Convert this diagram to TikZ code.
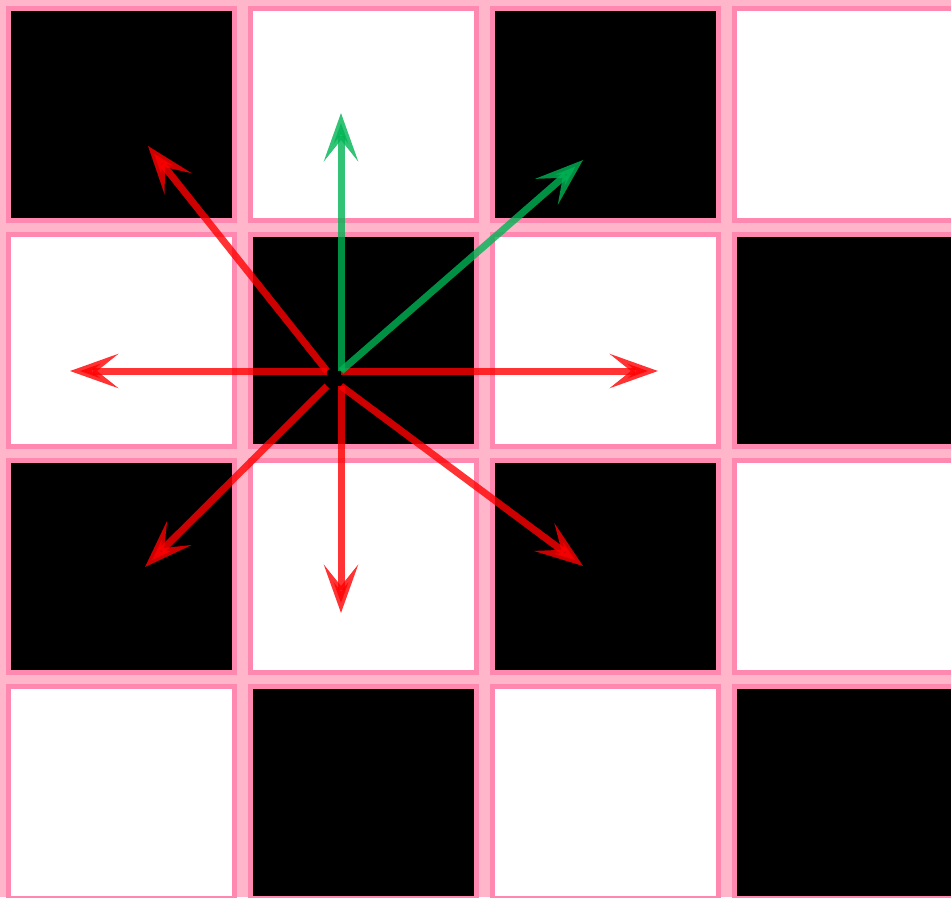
\documentclass[tikz,border=0pt]{standalone}
\usetikzlibrary{arrows.meta}
\definecolor{gridpink}{RGB}{255,136,176}
\definecolor{gappink}{RGB}{255,182,202}
\definecolor{vecred}{RGB}{255,0,0}
\definecolor{vecgreen}{RGB}{0,180,85}
\tikzset{
	cell/.style={draw=gridpink, line width=0.1cm},
	vec/.style={line width=0.14cm, opacity=0.8,
		-{Stealth[length=0.96cm, width=0.68cm, inset=0.42cm]}},
}
\begin{document}
\begin{tikzpicture}[x=0.02cm, y=-0.02cm]
	\useasboundingbox (0,0) rectangle (951,897);
	\fill[gappink] (0,0) rectangle (951,897);
	\begin{scope}
		\clip (0,0) rectangle (951,897);
		% checkerboard of pixels
		\foreach \row in {0,...,3}
			\foreach \col in {0,...,3} {
				\pgfmathtruncatemacro{\parity}{mod(\col+\row,2)}
				\ifnum\parity=0 \def\tone{black}\else\def\tone{white}\fi
				\draw[cell, fill=\tone] (8.5+242*\col, 8.5+226*\row) rectangle (234.5+242*\col, 220.5+226*\row);
			}
	\end{scope}
	% corners of the centre pixel
	\coordinate (ne) at (341, 371);
	\coordinate (nw) at (327, 371);
	\coordinate (sw) at (327, 386);
	\coordinate (se) at (341, 386);
	% arrow tips
	\coordinate (tipN) at (341, 113);
	\coordinate (tipNE) at (583, 160);
	\coordinate (tipE) at (658, 371);
	\coordinate (tipW) at (70, 371);
	\coordinate (tipNW) at (148, 146);
	\coordinate (tipSW) at (145, 567);
	\coordinate (tipS) at (341, 613);
	\coordinate (tipSE) at (583, 566);
	\draw[vec, vecred] (ne) -- (tipE);
	\draw[vec, vecred] (nw) -- (tipW);
	\draw[vec, vecred] (nw) -- (tipNW);
	\draw[vec, vecred] (sw) -- (tipSW);
	\draw[vec, vecred] (se) -- (tipS);
	\draw[vec, vecred] (se) -- (tipSE);
	\draw[vec, vecgreen] (ne) -- (tipN);
	\draw[vec, vecgreen] (ne) -- (tipNE);
\end{tikzpicture}
\end{document}
